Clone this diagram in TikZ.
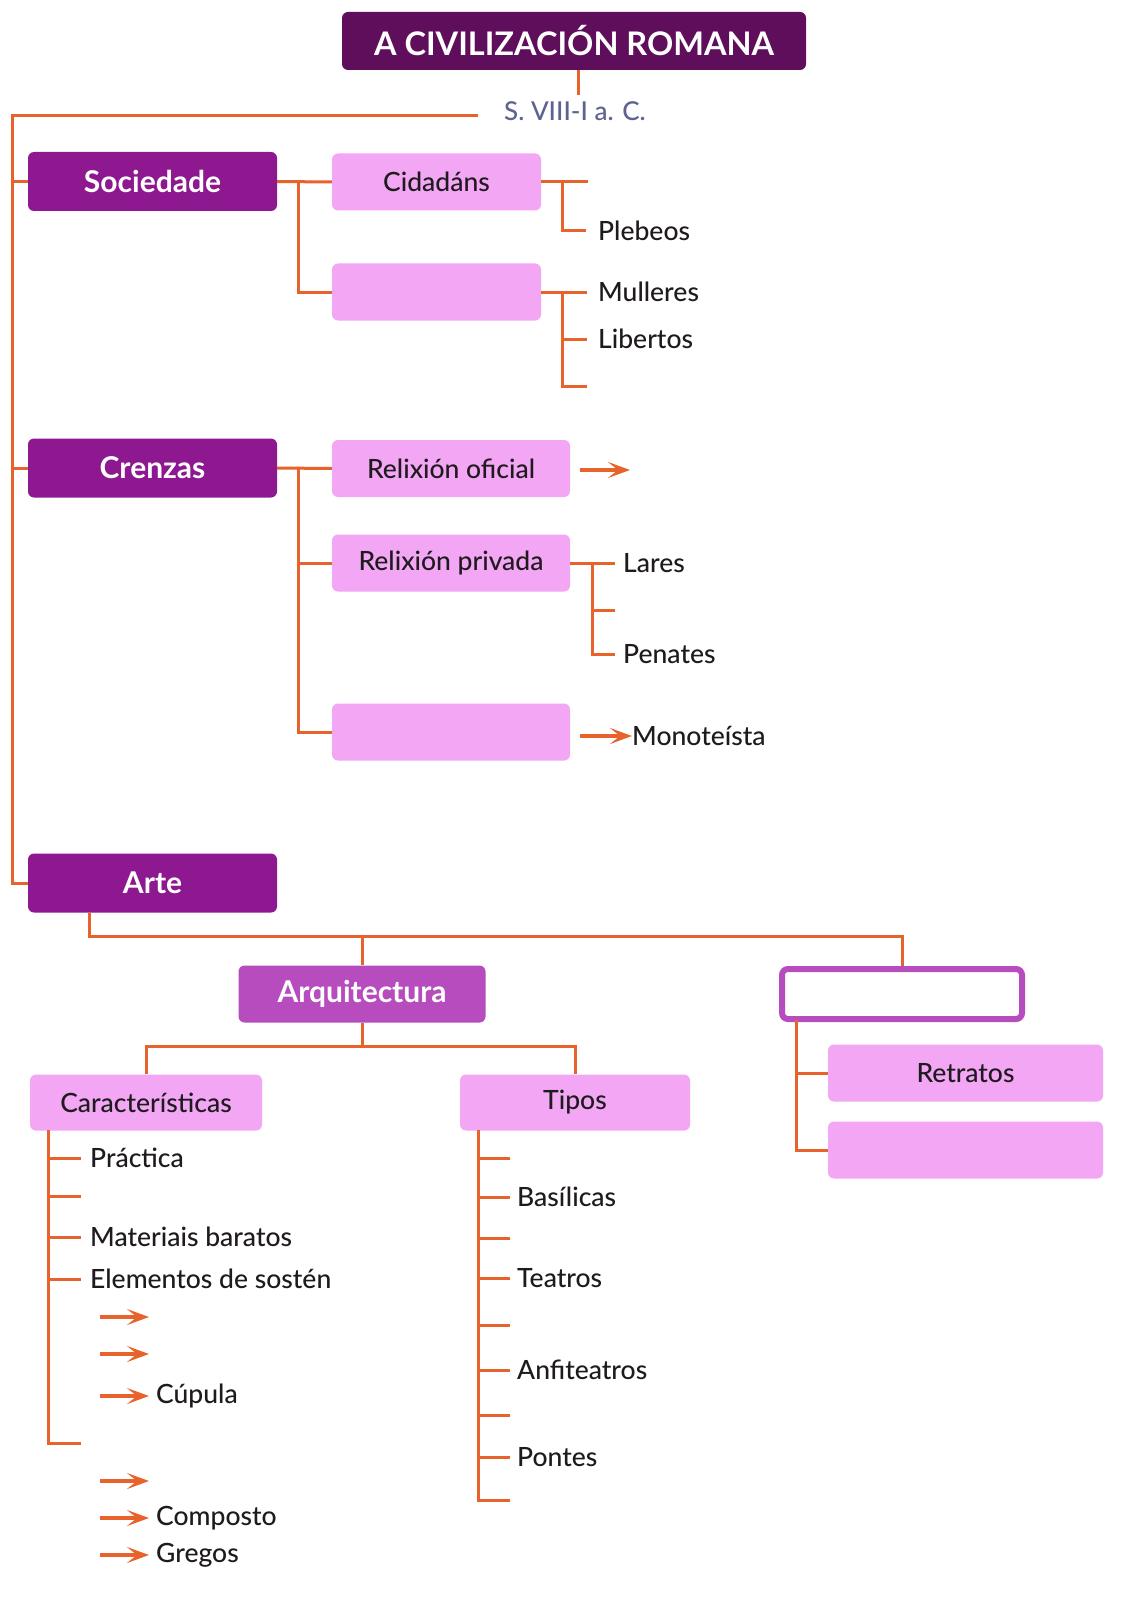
\documentclass[tikz,border=0pt]{standalone}
\usepackage{fontspec}
\setmainfont{Lato}
\newfontfamily\latob{Lato Bold}
\newfontfamily\latom{Lato Medium}
\usetikzlibrary{arrows.meta}
\definecolor{titlep}{HTML}{5E0E5B}
\definecolor{darkp}{HTML}{8E1890}
\definecolor{midp}{HTML}{B64CBD}
\definecolor{pinkp}{HTML}{F2A6F4}
\definecolor{orng}{HTML}{E8622C}
\definecolor{grayb}{HTML}{5E6290}
\definecolor{txt}{HTML}{1E1A1E}
\begin{document}
\begin{tikzpicture}[x=1pt,y=-1pt,
  ln/.style={draw=orng,line width=3pt},
  arr/.style={draw=orng,line width=4.5pt,-{Stealth[length=22pt,width=16pt,inset=10pt]}},
  boxbase/.style={rounded corners=6pt,inner sep=0pt,minimum height=57pt},
  titlebox/.style={boxbase,fill=titlep,text=white,font=\latob\fontsize{32.5}{34}\selectfont,minimum height=58pt},
  darkbox/.style={boxbase,fill=darkp,text=white,font=\latob\fontsize{30}{32}\selectfont,minimum width=249pt,minimum height=59pt},
  midbox/.style={boxbase,fill=midp,text=white,font=\latob\fontsize{30}{32}\selectfont,minimum width=247pt},
  pinkbox/.style={boxbase,fill=pinkp,text=txt,font=\latom\fontsize{26.5}{28}\selectfont},
  openbox/.style={boxbase,draw=midp,line width=6pt,fill=white,minimum width=240pt,minimum height=50pt},
  lbl/.style={anchor=west,inner sep=0pt,text=txt,font=\latom\fontsize{26.5}{28}\selectfont},
]
\useasboundingbox (0,0) rectangle (1123,1597);
\fill[white] (0,0) rectangle (1123,1597);

% title
\node[titlebox,minimum width=464pt] (title) at (574,41) {A CIVILIZACIÓN ROMANA};
\coordinate (tdown) at (578,95);
\draw[ln] (title.south -| tdown) -- (tdown);
\node[inner sep=0pt,text=grayb,font=\latom\fontsize{26}{28}\selectfont] (date) at (575,111) {S. VIII-I a. C.};
\coordinate (mtop) at (478,116);
\coordinate (mleft) at (12,116);

% main level nodes
\node[darkbox] (soc) at (152.5,181.5) {Sociedade};
\node[darkbox] (cre) at (152.5,468) {Crenzas};
\node[darkbox] (arte) at (152.5,883) {Arte};

\draw[ln] (mtop) -- (mleft) |- (arte.west);
\draw[ln] (mleft |- soc.west) -- (soc.west);
\draw[ln] (mleft |- cre.west) -- (cre.west);

% Sociedade
\node[pinkbox,minimum width=209pt] (cid) at (436.5,182) {Cidadáns};
\node[pinkbox,minimum width=209pt] (soc2) at (436.5,292) {};
\coordinate (sj) at (298,182);
\draw[ln] (soc.east) -- (cid.west);
\draw[ln] (sj) |- (soc2.west);

\coordinate (cj) at (562,182);
\coordinate (cend) at (588,182);
\node[lbl] (pleb) at (598,231) {Plebeos};
\draw[ln] (cid.east) -- (cend);
\draw[ln] (cj) |- ([xshift=-12pt]pleb.west);

\coordinate (sj2) at (562,292);
\node[lbl] (mull) at (598,292) {Mulleres};
\node[lbl] (libe) at (598,339) {Libertos};
\coordinate (send) at (587,386);
\draw[ln] (soc2.east) -- ([xshift=-11pt]mull.west);
\draw[ln] (sj2) |- (send);
\draw[ln] (sj2 |- libe.west) -- ([xshift=-11pt]libe.west);

% Crenzas
\node[pinkbox,minimum width=238pt] (rof) at (451,468.5) {Relixión oficial};
\node[pinkbox,minimum width=238pt] (rpr) at (451,563) {Relixión privada};
\node[pinkbox,minimum width=238pt] (cre3) at (451,732) {};
\coordinate (crj) at (298,468.5);
\draw[ln] (cre.east) -- (rof.west);
\draw[ln] (crj) |- (rpr.west);
\draw[ln] (crj) |- (cre3.west);

\coordinate (rofa) at (630,470);
\draw[arr] ([xshift=10pt]rof.east |- rofa) -- (rofa);

\node[lbl] (lar) at (623,563) {Lares};
\node[lbl] (pen) at (623,654) {Penates};
\coordinate (rj) at (592,563);
\coordinate (rmid) at (615,610);
\draw[ln] (rpr.east) -- ([xshift=-8pt]lar.west);
\draw[ln] (rj) |- ([xshift=-8pt]pen.west);
\draw[ln] (rj |- rmid) -- (rmid);

\node[lbl] (mono) at (632,736) {Monoteísta};
\draw[arr] ([xshift=10pt]cre3.east |- mono.west) -- (mono.west);

% Arte
\coordinate (aj) at (89,936);
\node[midbox] (arq) at (362,994) {Arquitectura};
\node[openbox] (escu) at (902,994) {};
\draw[ln] (arte.south -| aj) -- (aj) -| (escu.north);
\draw[ln] (arq.north) -- (arq.north |- aj);

\node[pinkbox,minimum width=275pt] (retr) at (965.5,1073) {Retratos};
\node[pinkbox,minimum width=275pt] (esc2) at (965.5,1150) {};
\coordinate (ej) at (796,1020);
\draw[ln] (ej) |- (esc2.west);
\draw[ln] (ej |- retr.west) -- (retr.west);

\node[pinkbox,minimum width=232pt,minimum height=56pt] (car) at (146,1102.5) {Características};
\node[pinkbox,minimum width=230pt,minimum height=56pt] (tip) at (575,1102.5) {Tipos};
\coordinate (qj) at (362,1046);
\draw[ln] (arq.south) -- (qj);
\draw[ln] (qj) -| (car.north);
\draw[ln] (qj) -| (tip.north);

% Características
\coordinate (kx) at (48,1130);
\node[lbl] (prac) at (90,1158) {Práctica};
\coordinate (k2) at (81,1196);
\node[lbl] (mate) at (90,1237) {Materiais baratos};
\node[lbl] (elem) at (90,1279) {Elementos de sostén};
\coordinate (kend) at (81,1443);
\draw[ln] (kx) |- (kend);
\draw[ln] (kx |- prac.west) -- ([xshift=-9pt]prac.west);
\draw[ln] (kx |- k2) -- (k2);
\draw[ln] (kx |- mate.west) -- ([xshift=-9pt]mate.west);
\draw[ln] (kx |- elem.west) -- ([xshift=-9pt]elem.west);

\coordinate (a1) at (149,1317);
\coordinate (a2) at (149,1354);
\node[lbl] (cup) at (156,1396) {Cúpula};
\coordinate (a4) at (149,1481);
\node[lbl] (comp) at (156,1518) {Composto};
\node[lbl] (greg) at (156,1555) {Gregos};
\draw[arr] ([xshift=-49pt]a1) -- (a1);
\draw[arr] ([xshift=-49pt]a2) -- (a2);
\draw[arr] ([xshift=-56pt]cup.west) -- ([xshift=-7pt]cup.west);
\draw[arr] ([xshift=-49pt]a4) -- (a4);
\draw[arr] ([xshift=-56pt]comp.west) -- ([xshift=-7pt]comp.west);
\draw[arr] ([xshift=-56pt]greg.west) -- ([xshift=-7pt]greg.west);

% Tipos
\coordinate (tx) at (478,1130);
\coordinate (t1) at (510,1158);
\node[lbl] (basi) at (517,1197) {Basílicas};
\coordinate (t3) at (510,1238);
\node[lbl] (teat) at (517,1278) {Teatros};
\coordinate (t5) at (510,1325);
\node[lbl] (anfi) at (517,1370) {Anfiteatros};
\coordinate (t7) at (510,1415);
\node[lbl] (pont) at (517,1457) {Pontes};
\coordinate (tend) at (510,1500);
\draw[ln] (tx) |- (tend);
\draw[ln] (tx |- t1) -- (t1);
\draw[ln] (tx |- basi.west) -- ([xshift=-7pt]basi.west);
\draw[ln] (tx |- t3) -- (t3);
\draw[ln] (tx |- teat.west) -- ([xshift=-7pt]teat.west);
\draw[ln] (tx |- t5) -- (t5);
\draw[ln] (tx |- anfi.west) -- ([xshift=-7pt]anfi.west);
\draw[ln] (tx |- t7) -- (t7);
\draw[ln] (tx |- pont.west) -- ([xshift=-7pt]pont.west);
\end{tikzpicture}
\end{document}
